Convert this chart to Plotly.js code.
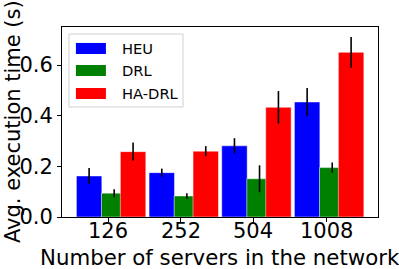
<!DOCTYPE html>
<html><head><meta charset="utf-8">
<script src="https://cdn.plot.ly/plotly-3.0.1.min.js"></script>
<style>body{margin:0;padding:0;background:#fff}#c{width:399px;height:269px}</style>
</head><body><div id="c"></div>
<script>
const categories = ["126", "252", "504", "1008"];
const heu = [0.162, 0.175, 0.281, 0.454];
const heuErr = [0.031, 0.016, 0.030, 0.055];
const drl = [0.094, 0.083, 0.151, 0.195];
const drlErr = [0.016, 0.011, 0.053, 0.020];
const hadrl = [0.258, 0.260, 0.433, 0.650];
const hadrlErr = [0.036, 0.020, 0.064, 0.061];
const seriesNames = ["HEU", "DRL", "HA-DRL"];
const colors = ["#0000ff", "#008000", "#ff0000"];
const xTitle = 'Number of servers in the network';
const yTitle = 'Avg. execution time (s)';

const pos = categories.map((c, i) => i);
const W = 0.35;
const offs = [-0.435, -0.09, 0.17];
const vals = [heu, drl, hadrl];
const errs = [heuErr, drlErr, hadrlErr];
const data = [];
vals.forEach((v, k) => {
  data.push({
    type: 'bar', x: pos, y: v, width: W, offset: offs[k], name: seriesNames[k],
    marker: {color: colors[k], line: {color: 'rgba(255,255,255,0.6)', width: 0.8}},
    showlegend: false, hoverinfo: 'skip'
  });
  data.push({
    type: 'scatter', mode: 'markers', x: pos.map(p => p + offs[k] + W / 2), y: v,
    marker: {size: 0.1, color: 'rgba(0,0,0,0)'},
    error_y: {type: 'data', array: errs[k], visible: true, color: '#000', thickness: 1.6, width: 0},
    showlegend: false, hoverinfo: 'skip'
  });
});

const F = 'DejaVu Sans, sans-serif';
const shapes = [{type: 'rect', xref: 'paper', yref: 'paper', x0: 0.022, x1: 0.383, y0: 0.579, y1: 0.963,
  line: {color: '#d0d0d0', width: 1}, fillcolor: 'rgba(255,255,255,0.85)', layer: 'above'}];
const annotations = [];
const rowY = [0.887, 0.771, 0.650];
for (let k = 0; k < 3; k++) {
  shapes.push({type: 'rect', xref: 'paper', yref: 'paper', x0: 0.044, x1: 0.139,
    y0: rowY[k] - 0.029, y1: rowY[k] + 0.029, line: {width: 0}, fillcolor: colors[k], layer: 'above'});
  annotations.push({xref: 'paper', yref: 'paper', x: 0.184, y: rowY[k], xanchor: 'left', yanchor: 'middle',
    text: seriesNames[k], showarrow: false, font: {family: F, size: 14.7, color: '#000'}});
}
categories.forEach((c, i) => {
  annotations.push({xref: 'x', yref: 'paper', x: pos[i], y: -0.074, xanchor: 'center', yanchor: 'middle',
    text: c, showarrow: false, font: {family: F, size: 21, color: '#000'}});
});
annotations.push({xref: 'paper', yref: 'paper', x: 0.5, y: -0.212, xanchor: 'center', yanchor: 'middle',
  text: xTitle, showarrow: false, font: {family: F, size: 21.3, color: '#000'}});
annotations.push({xref: 'paper', yref: 'paper', x: -0.155, y: 0.5, xanchor: 'center', yanchor: 'middle',
  textangle: -90, text: yTitle, showarrow: false, font: {family: F, size: 21, color: '#000'}});

const layout = {
  width: 399, height: 269, margin: {l: 62, r: 21, t: 27, b: 52},
  paper_bgcolor: '#fff', plot_bgcolor: '#fff', barmode: 'overlay',
  font: {family: F, color: '#000'},
  xaxis: {range: [-0.633, 3.715], tickvals: pos, showticklabels: false, showgrid: false, zeroline: false,
    showline: true, linecolor: '#000', linewidth: 1, mirror: true, ticks: 'outside', ticklen: 4, tickcolor: '#000',
    automargin: false},
  yaxis: {range: [0, 0.75], tickvals: [0, 0.2, 0.4, 0.6], tickformat: '.1f', showgrid: false, zeroline: false,
    showline: true, linecolor: '#000', linewidth: 1, mirror: true, ticks: 'outside', ticklen: 4, tickcolor: '#000',
    tickfont: {family: F, size: 21}, automargin: false},
  shapes: shapes, annotations: annotations, showlegend: false
};
Plotly.newPlot('c', data, layout, {staticPlot: true});
</script></body></html>
